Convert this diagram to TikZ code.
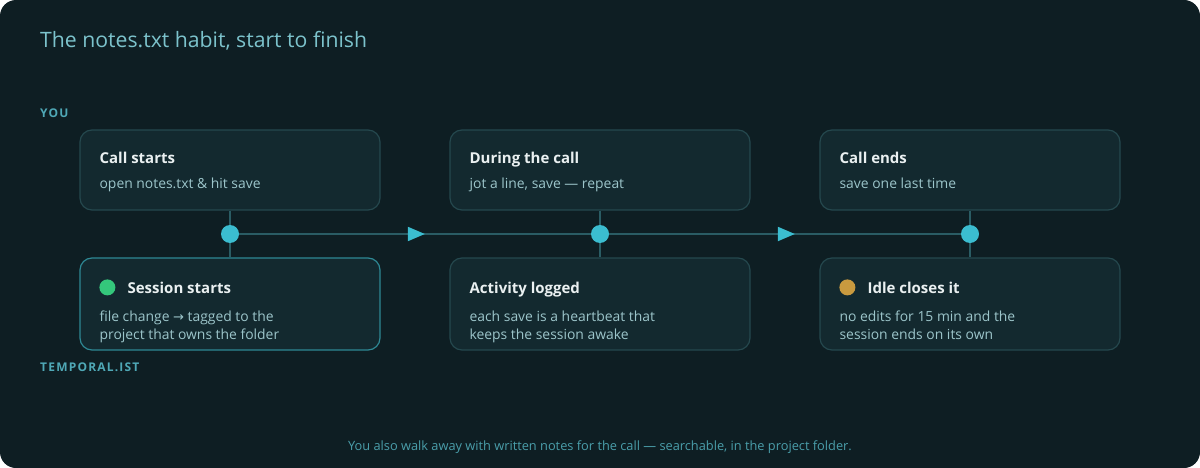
\documentclass[tikz,border=0pt]{standalone}
\usepackage{fontspec}
\setmainfont{Open Sans}
\newfontfamily\symfont{DejaVu Sans}
\newfontfamily\capsfont[LetterSpace=10]{Open Sans}
\usetikzlibrary{positioning, arrows.meta, decorations.markings}

\definecolor{pagebg}{HTML}{0E1E23}
\definecolor{boxfill}{HTML}{13292F}
\definecolor{boxline}{HTML}{25484E}
\definecolor{boxlit}{HTML}{2E8894}
\definecolor{linkline}{HTML}{2A5C64}
\definecolor{dotcyan}{HTML}{3BBDD0}
\definecolor{titlecol}{HTML}{7CC3CC}
\definecolor{lanecol}{HTML}{4FA8B6}
\definecolor{headcol}{HTML}{EAF0F1}
\definecolor{subcol}{HTML}{9CC5CA}
\definecolor{footcol}{HTML}{4A9EAA}
\definecolor{okgreen}{HTML}{34C77B}
\definecolor{idleamber}{HTML}{C99A3F}

\begin{document}
\begin{tikzpicture}[
    x=1pt, y=-1pt,
    topbox/.style={draw=boxline, fill=boxfill, line width=1.2pt, rounded corners=12pt,
      minimum width=300pt, minimum height=80pt, inner sep=0pt},
    lowbox/.style={topbox, minimum height=92pt},
    head/.style={anchor=base west, inner sep=0pt, text=headcol, font=\bfseries\fontsize{15}{18}\selectfont},
    sub/.style={anchor=base west, inner sep=0pt, text=subcol, align=left, font=\fontsize{13.9}{18}\selectfont},
    lane/.style={anchor=west, inner sep=0pt, text=lanecol, font=\capsfont\bfseries\fontsize{12}{14}\selectfont},
    dot/.style={circle, fill=dotcyan, minimum size=18pt, inner sep=0pt},
    status/.style={circle, minimum size=16pt, inner sep=0pt},
    link/.style={draw=linkline, line width=2pt},
    flow/.style={link, postaction={decorate}, decoration={markings,
      mark=at position 0.528 with {\arrow[dotcyan]{Triangle[length=17pt,width=14pt]}}}}
  ]
    % card
    \fill[white] (0,0) rectangle (1200,468);
    \fill[pagebg, rounded corners=16pt] (0,0) rectangle (1200,468);
    \useasboundingbox (0,0) rectangle (1200,468);

    \node[anchor=base west, inner sep=0pt, text=titlecol, font=\fontsize{21.2}{24}\selectfont] (title) at (40,48) {The notes.txt habit, start to finish};

    % lanes
    \node[lane] (you) at (40,113) {YOU};
    \node[lane] (tool) at (40,367) {TEMPORAL.IST};

    % user row
    \node[topbox] (callstart) at (230,170) {};
    \node[topbox] (callmid) at (600,170) {};
    \node[topbox] (callend) at (970,170) {};
    \node[head] at ([xshift=20pt,yshift=-34pt]callstart.north west) {Call starts};
    \node[sub] at ([xshift=20pt,yshift=-59pt]callstart.north west) {open notes.txt \& hit save};
    \node[head] at ([xshift=20pt,yshift=-34pt]callmid.north west) {During the call};
    \node[sub] at ([xshift=20pt,yshift=-59pt]callmid.north west) {jot a line, save — repeat};
    \node[head] at ([xshift=20pt,yshift=-34pt]callend.north west) {Call ends};
    \node[sub] at ([xshift=20pt,yshift=-59pt]callend.north west) {save one last time};

    % tool row
    \node[lowbox, draw=boxlit] (sessstart) at (230,304) {};
    \node[lowbox] (logged) at (600,304) {};
    \node[lowbox] (idle) at (970,304) {};
    \node[status, fill=okgreen] (green) at ([xshift=28pt,yshift=-30pt]sessstart.north west) {};
    \node[head] at ([xshift=48pt,yshift=-36pt]sessstart.north west) {Session starts};
    \node[sub] at ([xshift=20pt,yshift=-82pt]sessstart.north west) {file change {\symfont\fontsize{13}{18}\selectfont →} tagged to the\\project that owns the folder};
    \node[head] at ([xshift=20pt,yshift=-36pt]logged.north west) {Activity logged};
    \node[sub] at ([xshift=20pt,yshift=-82pt]logged.north west) {each save is a heartbeat that\\keeps the session awake};
    \node[status, fill=idleamber] (amber) at ([xshift=28pt,yshift=-30pt]idle.north west) {};
    \node[head] at ([xshift=48pt,yshift=-36pt]idle.north west) {Idle closes it};
    \node[sub] at ([xshift=20pt,yshift=-82pt]idle.north west) {no edits for 15 min and the\\session ends on its own};

    % timeline
    \node[dot] (d1) at (230,234) {};
    \node[dot] (d2) at (600,234) {};
    \node[dot] (d3) at (970,234) {};
    \draw[link] (callstart.south) -- (d1) -- (sessstart.north);
    \draw[link] (callmid.south) -- (d2) -- (logged.north);
    \draw[link] (callend.south) -- (d3) -- (idle.north);
    \draw[flow] (d1) -- (d2);
    \draw[flow] (d2) -- (d3);

    \node[text=footcol, font=\fontsize{12.8}{15}\selectfont] (foot) at (600,447) {You also walk away with written notes for the call — searchable, in the project folder.};
\end{tikzpicture}
\end{document}
